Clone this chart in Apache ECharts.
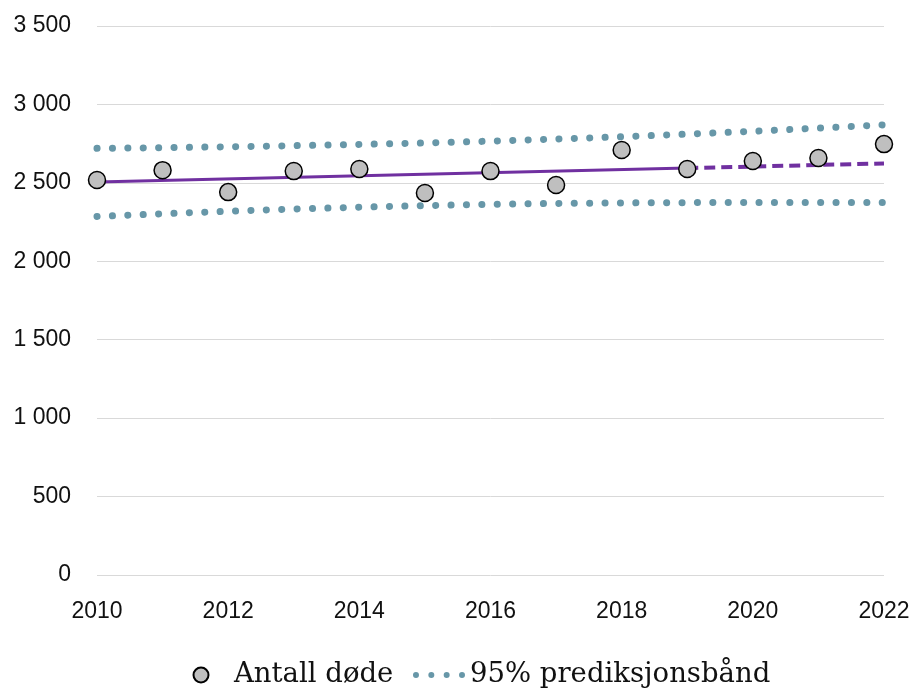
<!DOCTYPE html>
<html>
<head>
<meta charset="utf-8">
<script src="https://cdn.jsdelivr.net/npm/echarts@6/dist/echarts.min.js"></script>
<style>
  html, body { margin: 0; padding: 0; background: #fff; }
  #chart { width: 910px; height: 691px; }
</style>
</head>
<body>
<div id="chart"></div>
<script>
// Årlig antall døde, 2010–2022, med lineær trend og 95 % prediksjonsbånd
const years = [2010, 2011, 2012, 2013, 2014, 2015, 2016, 2017, 2018, 2019, 2020, 2021, 2022];
const deaths = [2518, 2581, 2441, 2575, 2588, 2435, 2575, 2486, 2709, 2588, 2639, 2658, 2747];

// Trendlinje: tilpasset periode og fremskrevet periode
const trendYears = [2010, 2019];
const trendValues = [2505, 2594];
const projYears = [2019, 2022];
const projValues = [2594, 2624];

// Prediksjonsbånd, øvre og nedre grense
const upperBand = [2720, 2724, 2730, 2737, 2745, 2754, 2766, 2779, 2794, 2811, 2829, 2849, 2870];
const lowerBand = [2286, 2303, 2319, 2333, 2345, 2355, 2363, 2369, 2372, 2374, 2375, 2375, 2375];

const yTicks = [0, 500, 1000, 1500, 2000, 2500, 3000, 3500];

const pairs = (xs, ys) => xs.map((x, i) => [x, ys[i]]);
const fmtThousands = v => String(v).replace(/\B(?=(\d{3})+(?!\d))/g, ' ');

const bandColor = '#6797a8';
const trendColor = '#7030a0';
const axisFont = '"Liberation Sans", Arial, sans-serif';
const legendFont = '"DejaVu Serif", "Liberation Serif", serif';

// Fire prikker som forklaringssymbol for prediksjonsbåndet
const dotsIcon = 'path://' + [0, 15.4, 30.8, 46.2]
  .map(x => `M${x},3 a3,3 0 1,0 6,0 a3,3 0 1,0 -6,0 Z`).join(' ');

const chart = echarts.init(document.getElementById('chart'), null, { renderer: 'canvas' });

const legendText = { fontFamily: legendFont, fontSize: 27.5, color: '#111' };

chart.setOption({
  animation: false,
  backgroundColor: '#ffffff',
  grid: {
    left: 97, right: 26, top: 26, bottom: 116,
    containLabel: false,
    outerBoundsMode: 'none'
  },
  xAxis: {
    type: 'value',
    min: years[0],
    max: years[years.length - 1],
    interval: 2,
    axisLine: { show: false },
    axisTick: { show: false },
    splitLine: { show: false },
    axisLabel: {
      color: '#111',
      fontFamily: axisFont,
      fontSize: 23,
      margin: 25,
      formatter: v => String(v)
    }
  },
  yAxis: {
    type: 'value',
    min: yTicks[0],
    max: yTicks[yTicks.length - 1],
    interval: 500,
    axisLine: { show: false },
    axisTick: { show: false },
    splitLine: { show: true, lineStyle: { color: '#d9d9d9', width: 1 } },
    axisLabel: {
      color: '#111',
      fontFamily: axisFont,
      fontSize: 23,
      margin: 26,
      formatter: v => fmtThousands(v)
    }
  },
  legend: [
    {
      left: 187.5,
      top: 656,
      itemWidth: 56,
      itemHeight: 15,
      textStyle: legendText,
      data: [{ name: 'Antall døde', icon: 'circle' }]
    },
    {
      left: 408,
      top: 656,
      itemWidth: 52,
      itemHeight: 6,
      textStyle: legendText,
      data: [{ name: '95% prediksjonsbånd', icon: dotsIcon, itemStyle: { color: bandColor } }]
    }
  ],
  series: [
    {
      name: '95% prediksjonsbånd',
      type: 'line',
      data: pairs(years, upperBand),
      symbol: 'none',
      z: 2,
      lineStyle: { color: bandColor, width: 7, type: [0.1, 15.3], cap: 'round' },
      itemStyle: { color: bandColor }
    },
    {
      name: 'nedre',
      type: 'line',
      data: pairs(years, lowerBand),
      symbol: 'none',
      z: 2,
      lineStyle: { color: bandColor, width: 7, type: [0.1, 15.3], cap: 'round' },
      itemStyle: { color: bandColor }
    },
    {
      name: 'trend',
      type: 'line',
      data: pairs(trendYears, trendValues),
      symbol: 'none',
      z: 3,
      lineStyle: { color: trendColor, width: 3 }
    },
    {
      name: 'trend fremskrevet',
      type: 'line',
      data: pairs(projYears, projValues),
      symbol: 'none',
      z: 3,
      lineStyle: { color: trendColor, width: 4, type: [11, 6] }
    },
    {
      name: 'Antall døde',
      type: 'scatter',
      data: pairs(years, deaths),
      symbol: 'circle',
      symbolSize: 17,
      z: 4,
      itemStyle: { color: '#bfbfbf', borderColor: '#000', borderWidth: 1.5, opacity: 1 }
    }
  ]
});
</script>
</body>
</html>
